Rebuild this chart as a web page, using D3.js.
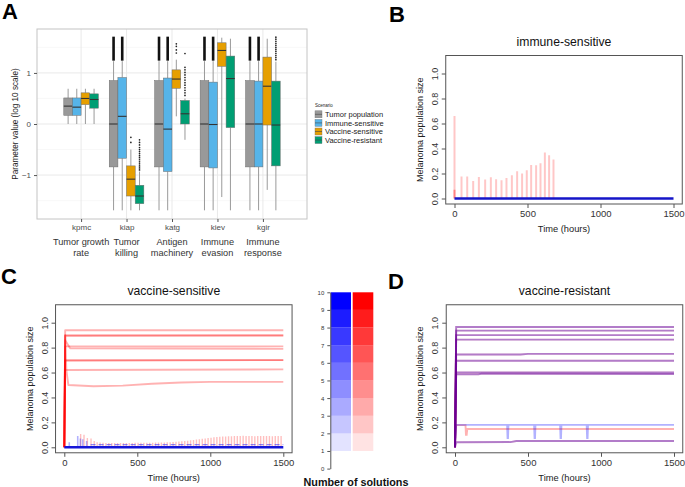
<!DOCTYPE html>
<html><head><meta charset="utf-8">
<script src="https://cdn.jsdelivr.net/npm/d3@7"></script>
<style>
body{margin:0;background:#fff}
svg{display:block}
text{font-family:"Liberation Sans",Arial,sans-serif}
</style>
</head><body>
<svg id="chart" width="685" height="487"></svg>
<script>
// ---------------- DATA ----------------
// Panel A
const categories = ["kpmc","kiap","katg","kiev","kgir"];
const descriptions = [["Tumor growth","rate"],["Tumor","killing"],["Antigen","machinery"],["Immune","evasion"],["Immune","response"]];
const scenarios = ["Tumor population","Immune-sensitive","Vaccine-sensitive","Vaccine-resistant"];
const scenarioColors = ["#999999","#56B4E9","#E69F00","#009E73"];
const yTicksA = [-1,0,1];
const yMinorA = [-1.5,-0.5,0.5,1.5];
// [lower whisker, Q1, median, Q3, upper whisker] per category
const boxTumor   = [[0,0.17,0.35,0.51,0.69],[-1.69,-0.84,0,0.85,1.23],[-1.69,-0.84,0,0.85,1.23],[-1.69,-0.84,0,0.85,1.23],[-1.69,-0.84,0,0.85,1.23]];
const boxImmune  = [[0,0.17,0.33,0.51,0.69],[-1.69,-0.67,0.15,0.91,1.23],[-1.69,-0.93,-0.10,0.90,1.23],[-1.69,-0.86,-0.01,0.82,1.23],[-1.69,-0.84,0,0.84,1.23]];
const boxVacSens = [[0,0.38,0.50,0.61,0.69],[-1.69,-1.41,-1.08,-0.82,-0.50],[0.15,0.70,0.88,1.06,1.26],[-1.43,1.13,1.44,1.59,1.69],[-1.29,-0.02,0.74,1.31,1.67]];
const boxVacRes  = [[0,0.31,0.48,0.59,0.69],[-1.69,-1.56,-1.41,-1.20,-0.93],[-0.31,0,0.20,0.46,0.50],[-1.69,-0.07,0.89,1.33,1.67],[-1.69,-0.82,-0.02,0.84,1.22]];
// dense outlier bands [from,to] per category
const bandTumor  = [null,[1.24,1.71],[1.24,1.71],[1.24,1.71],[1.24,1.71]];
const bandImmune = [null,[1.24,1.71],[1.24,1.71],[1.24,1.71],[1.24,1.71]];
// single outlier points per category
const ptsVacSens = [[],[-0.26,-0.36],[1.39,1.45,1.52,1.57],[],[]];
const ptsVacRes  = [[],[-0.31,-0.36,-0.41,-0.46,-0.5,-0.54,-0.58,-0.62,-0.66,-0.7,-0.74,-0.78,-0.82,-0.86,-0.9],
                    [0.56,0.61,0.66,0.71,0.76,0.81,0.86,0.91,0.96,1.01,1.06,1.11,1.38],[],
                    [1.26,1.3,1.34,1.38,1.42,1.46,1.5,1.54,1.58,1.62,1.66,1.70]];

// R panels
const timeTicks = [0,500,1000,1500];
const popTicks = [0,0.2,0.4,0.6,0.8,1.0];
// Panel B: immune-sensitive
const bSpikeTimes   = [0,48,87,128,167,210,249,285,322,356,393,429,463,495,525,559,589,619,648,678];
const bSpikeHeights = [0.66,0.176,0.176,0.141,0.173,0.152,0.171,0.155,0.147,0.165,0.187,0.219,0.20,0.227,0.269,0.267,0.283,0.368,0.347,0.312];
const bBlue = [[0,0],[1500,0]];
// Panel C: vaccine-sensitive
const cRedSeries = [
  [[0,0],[6,0.94],[1500,0.94]],
  [[0,0],[6,0.90],[1500,0.90]],
  [[0,0],[6,0.893],[1500,0.895]],
  [[0,0],[6,0.81],[1500,0.81]],
  [[0,0],[6,0.86],[40,0.795],[1500,0.79]],
  [[0,0],[6,0.70],[1500,0.70]],
  [[0,0],[6,0.695],[1500,0.70]],
  [[0,0],[6,0.62],[1500,0.625]],
  [[0,0],[6,0.90],[14,0.62],[28,0.50],[200,0.49],[400,0.495],[600,0.51],[800,0.52],[1000,0.525],[1500,0.525]]
];
const cRedSpikes = [[112,0.107],[135,0.10],[158,0.075],[183,0.07],[205,0.05],
  [225,0.04],[245,0.038],[265,0.036],[285,0.035],[305,0.035],[325,0.034],[345,0.034],[365,0.034],[385,0.034],[405,0.035],
  [425,0.035],[445,0.035],[465,0.035],[485,0.036],[505,0.036],[525,0.036],[545,0.036],[565,0.037],[585,0.037],[605,0.037],
  [625,0.038],[645,0.038],[665,0.039],[685,0.039],[705,0.040],
  [725,0.041],[745,0.042],[765,0.044],[785,0.046],[805,0.048],[825,0.050],[845,0.053],[865,0.056],[885,0.059],[905,0.062],
  [925,0.065],[945,0.068],[965,0.071],[985,0.074],[1005,0.077],[1025,0.080],[1045,0.082],[1065,0.084],[1085,0.086],[1105,0.087],
  [1125,0.088],[1145,0.089],[1165,0.09],
  [1185,0.091],[1205,0.09],[1225,0.092],[1245,0.09],[1265,0.091],[1285,0.09],[1305,0.089],[1325,0.09],[1345,0.091],[1365,0.09],
  [1385,0.09],[1405,0.091],[1425,0.089],[1445,0.09],[1465,0.09],[1485,0.09]];
const cBlueSpikes = [[34,0.04],[92,0.09],[110,0.07],[126,0.065],[153,0.05]];
const cBlueLow = [[180,0.022],[1500,0.022]];
const cBlueBase = [[0,0],[1500,0]];
// Panel D: vaccine-resistant
const dBothSeries = [
  [[0,0],[8,0.965],[1500,0.965]],
  [[0,0],[8,0.936],[1500,0.936]],
  [[0,0],[8,0.90],[1500,0.90]],
  [[0,0],[8,0.864],[1500,0.864]],
  [[0,0],[8,0.745],[450,0.745],[500,0.75],[1500,0.75]],
  [[0,0],[8,0.695],[1500,0.695]],
  [[0,0],[8,0.60],[1500,0.60]],
  [[0,0],[8,0.585],[160,0.585],[180,0.59],[1500,0.588]],
  [[0,0],[8,0.04],[380,0.042],[420,0.05],[1500,0.05]]
];
const dBlue = [[0,0],[8,0.18],[357,0.18],[360,0.075],[363,0.075],[366,0.18],[542,0.18],[545,0.075],[548,0.075],[551,0.18],
  [720,0.18],[723,0.075],[726,0.075],[729,0.18],[902,0.18],[905,0.075],[908,0.075],[911,0.18],[1500,0.18]];
const dRed = [[0,0],[8,0.178],[72,0.178],[75,0.10],[80,0.10],[84,0.147],[1500,0.147]];
// colour bar
const solutionCounts = [1,2,3,4,5,6,7,8,9];
const cbTicks = [0,1,2,3,4,5,6,7,8,9,10];

// ---------------- DRAW ----------------
const svg = d3.select("#chart");
svg.append("rect").attr("width",685).attr("height",487).attr("fill","#fff");

function panelLabel(t,x,y){
  svg.append("text").attr("x",x).attr("y",y).attr("font-size",22).attr("font-weight","bold").attr("fill","#000").text(t);
}
panelLabel("A",2,19); panelLabel("B",389,22); panelLabel("C",1,284); panelLabel("D",388,289);

// ---- Panel A ----
const A = {left:37,right:307,top:29,bottom:219};
const xA = d3.scalePoint().domain(categories).range([A.left,A.right]).padding(0.97);
const yA = d3.scaleLinear().domain([-1.86,1.86]).range([A.bottom,A.top]);
const groupW = 34.6;
const dodge = d3.scaleBand().domain(scenarios).range([-groupW/2,groupW/2]);
const gA = svg.append("g");
gA.selectAll("line.minor").data(yMinorA).join("line").attr("class","minor")
  .attr("x1",A.left).attr("x2",A.right).attr("y1",d=>yA(d)).attr("y2",d=>yA(d))
  .attr("stroke","#f3f3f3").attr("stroke-width",0.6);
gA.selectAll("line.major").data(yTicksA).join("line").attr("class","major")
  .attr("x1",A.left).attr("x2",A.right).attr("y1",d=>yA(d)).attr("y2",d=>yA(d))
  .attr("stroke","#e6e6e6").attr("stroke-width",0.9);
gA.selectAll("line.vmajor").data(categories).join("line").attr("class","vmajor")
  .attr("x1",d=>xA(d)).attr("x2",d=>xA(d)).attr("y1",A.top).attr("y2",A.bottom)
  .attr("stroke","#e6e6e6").attr("stroke-width",0.9);

const boxSets = [boxTumor,boxImmune,boxVacSens,boxVacRes];
const bandSets = [bandTumor,bandImmune,[null,null,null,null,null],[null,null,null,null,null]];
const ptSets = [[[],[],[],[],[]],[[],[],[],[],[]],ptsVacSens,ptsVacRes];
const bw = dodge.bandwidth();
scenarios.forEach((s,si)=>{
  categories.forEach((c,ci)=>{
    const st = boxSets[si][ci];
    const x0 = xA(c)+dodge(s), cx = x0+bw/2;
    const g = gA.append("g");
    g.append("line").attr("x1",cx).attr("x2",cx).attr("y1",yA(st[0])).attr("y2",yA(st[1])).attr("stroke","#9a9a9a").attr("stroke-width",1);
    g.append("line").attr("x1",cx).attr("x2",cx).attr("y1",yA(st[3])).attr("y2",yA(st[4])).attr("stroke","#9a9a9a").attr("stroke-width",1);
    const band = bandSets[si][ci];
    if(band){
      g.append("rect").attr("x",cx-1.3).attr("width",2.6).attr("y",yA(band[1])).attr("height",yA(band[0])-yA(band[1])).attr("fill","#111");
    }
    ptSets[si][ci].forEach(v=>{
      g.append("circle").attr("cx",cx).attr("cy",yA(v)).attr("r",0.85).attr("fill","#222");
    });
    g.append("rect").attr("x",x0).attr("width",bw).attr("y",yA(st[3])).attr("height",yA(st[1])-yA(st[3]))
      .attr("fill",scenarioColors[si]).attr("stroke","#6b6b6b").attr("stroke-width",0.5);
    g.append("line").attr("x1",x0).attr("x2",x0+bw).attr("y1",yA(st[2])).attr("y2",yA(st[2])).attr("stroke","#333").attr("stroke-width",1.1);
  });
});
gA.append("rect").attr("x",A.left).attr("y",A.top).attr("width",A.right-A.left).attr("height",A.bottom-A.top)
  .attr("fill","none").attr("stroke","#c4c4c4").attr("stroke-width",1);
// axes A
const axYA = gA.append("g").attr("transform",`translate(${A.left},0)`)
  .call(d3.axisLeft(yA).tickValues(yTicksA).tickFormat(d3.format("d")).tickSize(3).tickPadding(3).tickSizeOuter(0));
axYA.select(".domain").remove();
axYA.selectAll("line").attr("stroke","#555");
axYA.selectAll("text").attr("font-size",8).attr("fill","#4d4d4d").attr("font-family","Liberation Sans, Arial, sans-serif");
const axXA = gA.append("g").attr("transform",`translate(0,${A.bottom})`)
  .call(d3.axisBottom(xA).tickSize(3).tickPadding(2).tickSizeOuter(0));
axXA.select(".domain").remove();
axXA.selectAll("line").attr("stroke","#555");
axXA.selectAll("text").attr("font-size",8).attr("fill","#4d4d4d").attr("font-family","Liberation Sans, Arial, sans-serif");
gA.append("text").attr("transform",`translate(17.5,${(A.top+A.bottom)/2}) rotate(-90)`).attr("text-anchor","middle")
  .attr("font-size",8.2).attr("fill","#222").text("Parameter value (log 10 scale)");
categories.forEach((c,ci)=>{
  descriptions[ci].forEach((line,li)=>{
    gA.append("text").attr("x",xA(c)).attr("y",244.5+li*11).attr("text-anchor","middle")
      .attr("font-family","Lato, 'Open Sans', sans-serif").attr("font-size",9.2).attr("fill","#333").text(line);
  });
});
// legend
const lg = svg.append("g");
lg.append("text").attr("x",315).attr("y",107).attr("font-size",4.5).attr("fill","#222").text("Scenario");
scenarios.forEach((s,i)=>{
  const cy = 114.3+i*8.6;
  lg.append("rect").attr("x",315).attr("y",cy-3.5).attr("width",7).attr("height",7).attr("fill",scenarioColors[i]).attr("stroke","#777").attr("stroke-width",0.4);
  lg.append("line").attr("x1",315).attr("x2",322).attr("y1",cy).attr("y2",cy).attr("stroke","#444").attr("stroke-width",0.6);
  lg.append("text").attr("x",325).attr("y",cy).attr("dy","0.35em").attr("font-size",7.5).attr("fill","#222").text(s);
});

// ---- R-style panels ----
let clipN=0;
function rPanel(cfg){
  const x = d3.scaleLinear().domain([0,1500]).range([cfg.x0,cfg.x1500]);
  const y = d3.scaleLinear().domain([0,1]).range([cfg.y0,cfg.y1]);
  const L=x(-60),R=x(1560),T=y(1.144),B=y(-0.044);
  const g = svg.append("g");
  const id="clip"+(clipN++);
  g.append("clipPath").attr("id",id).append("rect").attr("x",L).attr("y",T).attr("width",R-L).attr("height",B-T);
  const plot = g.append("g").attr("clip-path",`url(#${id})`);
  const ax = g.append("g").attr("transform",`translate(0,${B})`)
    .call(d3.axisBottom(x).tickValues(timeTicks).tickFormat(d3.format("d")).tickSize(4).tickPadding(2).tickSizeOuter(0));
  ax.select(".domain").remove();
  ax.selectAll("line").attr("stroke","#555");
  ax.selectAll("text").attr("font-size",9.5).attr("fill","#333").attr("font-family","Liberation Sans, Arial, sans-serif");
  const ay = g.append("g").attr("transform",`translate(${L},0)`)
    .call(d3.axisLeft(y).tickValues(popTicks).tickFormat(d3.format(".1f")).tickSize(4).tickSizeOuter(0));
  ay.select(".domain").remove();
  ay.selectAll("line").attr("stroke","#555");
  ay.selectAll("text").attr("x",0).attr("dy",0).attr("text-anchor","middle")
    .attr("transform","translate(-8,0) rotate(-90)")
    .attr("font-size",9).attr("fill","#333").attr("font-family","Liberation Sans, Arial, sans-serif");
  g.append("rect").attr("x",L).attr("y",T).attr("width",R-L).attr("height",B-T).attr("fill","none").attr("stroke","#555").attr("stroke-width",1);
  g.append("text").attr("x",(x(0)+x(1500))/2).attr("y",T-9.5).attr("text-anchor","middle").attr("font-size",12.2).attr("fill","#111").text(cfg.title);
  g.append("text").attr("x",(x(0)+x(1500))/2).attr("y",B+28).attr("text-anchor","middle").attr("font-size",9.3).attr("fill","#222").text("Time (hours)");
  g.append("text").attr("transform",`translate(${L-23},${(T+B)/2}) rotate(-90)`).attr("text-anchor","middle").attr("font-size",9).attr("fill","#222").text("Melanoma population size");
  return {x,y,plot};
}
const line = (p)=>d3.line().x(d=>p.x(d[0])).y(d=>p.y(d[1]));

// Panel B
const pB = rPanel({x0:454.5,x1500:673.5,y0:198.5,y1:73.5,title:"immune-sensitive"});
pB.plot.selectAll("line.sp").data(bSpikeTimes).join("line")
  .attr("x1",(d)=>pB.x(d)).attr("x2",(d)=>pB.x(d)).attr("y1",pB.y(0)).attr("y2",(d,i)=>pB.y(bSpikeHeights[i]))
  .attr("stroke","rgba(255,0,0,0.22)").attr("stroke-width",2);
pB.plot.append("line").attr("x1",pB.x(0)).attr("x2",pB.x(0)).attr("y1",pB.y(0)).attr("y2",pB.y(0.07)).attr("stroke","rgba(255,0,0,0.35)").attr("stroke-width",2);
pB.plot.append("path").attr("d",line(pB)(bBlue)).attr("fill","none").attr("stroke","#1515c8").attr("stroke-width",2.4);

// Panel C
const pC = rPanel({x0:64.3,x1500:283.3,y0:447.3,y1:322.7,title:"vaccine-sensitive"});
cRedSeries.forEach(s=>{
  pC.plot.append("path").attr("d",line(pC)(s)).attr("fill","none").attr("stroke","rgba(255,0,0,0.3)").attr("stroke-width",1.9).attr("stroke-linejoin","round");
});
pC.plot.selectAll("line.rs").data(cRedSpikes).join("line")
  .attr("x1",d=>pC.x(d[0])).attr("x2",d=>pC.x(d[0])).attr("y1",pC.y(0)).attr("y2",d=>pC.y(d[1]))
  .attr("stroke","rgba(255,0,0,0.25)").attr("stroke-width",1.4);
pC.plot.selectAll("line.bs").data(cBlueSpikes).join("line")
  .attr("x1",d=>pC.x(d[0])).attr("x2",d=>pC.x(d[0])).attr("y1",pC.y(0)).attr("y2",d=>pC.y(d[1]))
  .attr("stroke","rgba(0,0,255,0.3)").attr("stroke-width",1.6);
pC.plot.append("path").attr("d",line(pC)(cBlueLow)).attr("fill","none").attr("stroke","rgba(0,0,255,0.45)").attr("stroke-width",1.2).attr("stroke-dasharray","5,3");
pC.plot.append("path").attr("d",line(pC)(cBlueBase)).attr("fill","none").attr("stroke","#1515d8").attr("stroke-width",2.6);

// Panel D
const pD = rPanel({x0:455,x1500:674,y0:447.3,y1:322.7,title:"vaccine-resistant"});
dBothSeries.forEach(s=>{
  pD.plot.append("path").attr("d",line(pD)(s)).attr("fill","none").attr("stroke","rgba(255,0,0,0.3)").attr("stroke-width",1.9);
  pD.plot.append("path").attr("d",line(pD)(s)).attr("fill","none").attr("stroke","rgba(0,0,255,0.3)").attr("stroke-width",1.9);
});
pD.plot.append("path").attr("d",line(pD)(dRed)).attr("fill","none").attr("stroke","rgba(255,0,0,0.3)").attr("stroke-width",1.9);
pD.plot.append("path").attr("d",line(pD)(dBlue)).attr("fill","none").attr("stroke","rgba(0,0,255,0.3)").attr("stroke-width",1.9);

// colour bar
const ycb = d3.scaleLinear().domain([0,10]).range([468.6,292.3]);
const cb = svg.append("g");
cb.selectAll("rect.blue").data(solutionCounts).join("rect")
  .attr("x",330.7).attr("width",20.3).attr("y",d=>ycb(d+1)).attr("height",d=>ycb(d)-ycb(d+1))
  .attr("fill","#0000ff").attr("fill-opacity",d=>d/9);
cb.selectAll("rect.red").data(solutionCounts).join("rect")
  .attr("x",352.7).attr("width",20.6).attr("y",d=>ycb(d+1)).attr("height",d=>ycb(d)-ycb(d+1))
  .attr("fill","#ff0000").attr("fill-opacity",d=>d/9);
const axcb = cb.append("g").attr("transform","translate(330.3,0)")
  .call(d3.axisLeft(ycb).tickValues(cbTicks).tickFormat(d3.format("d")).tickSize(3).tickPadding(3).tickSizeOuter(0));
axcb.select(".domain").attr("stroke","#555");
axcb.selectAll("line").attr("stroke","#555");
axcb.selectAll("text").attr("font-size",6).attr("fill","#333").attr("font-family","Liberation Sans, Arial, sans-serif");
cb.append("text").attr("x",356).attr("y",486).attr("text-anchor","middle").attr("font-size",10.8).attr("font-weight","bold").attr("fill","#111").text("Number of solutions");
</script>
</body></html>
